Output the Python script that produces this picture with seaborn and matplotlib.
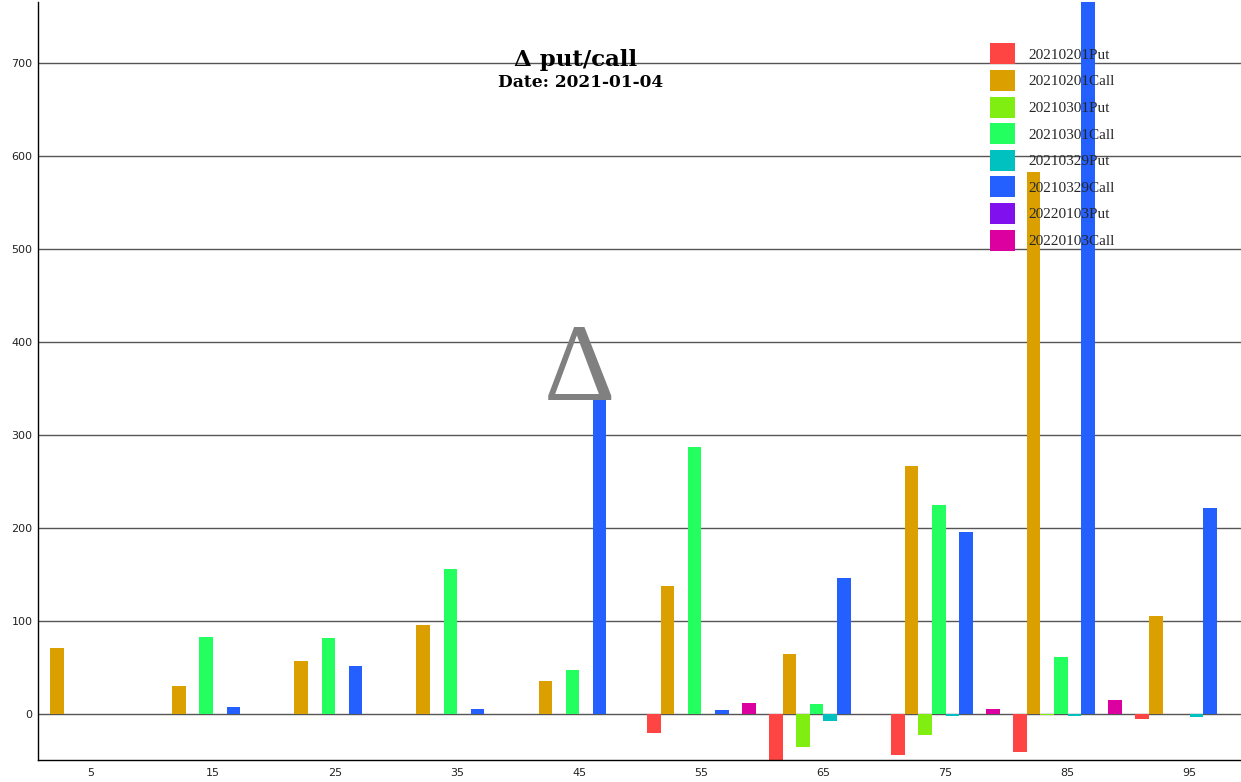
import matplotlib.pyplot as plt
import pandas as pd
import seaborn as sns

# 行使価格ごとの Δ put/call（2021-01-04）
strikes = ["5", "15", "25", "35", "45", "55", "65", "75", "85", "95"]
series_names = [
    "20210201Put", "20210201Call", "20210301Put", "20210301Call",
    "20210329Put", "20210329Call", "20220103Put", "20220103Call",
]
put_0201 = [0, 0, 0, 0, 0, -21, -58, -45, -41, -6]
call_0201 = [71, 30, 57, 95, 35, 137, 64, 266, 583, 105]
put_0301 = [0, 0, 0, 0, 0, 0, -36, -23, -2, -1]
call_0301 = [0, 82, 81, 155, 47, 287, 10, 224, 61, 0]
put_0329 = [0, 0, 0, 0, 0, 0, -8, -2.5, -3, -3.5]
call_0329 = [0, 6.5, 51, 5, 337, 3.5, 146, 195, 790, 221]
put_0103 = [0, 0, 0, 0, 0, 0, 0, 0, 0, 0]
call_0103 = [0, 0, 0, 0, 0, 11.5, 0, 4.7, 14.4, 0]

colors = ["#ff4444", "#dba000", "#80ee11", "#22ff5e",
          "#00c0c0", "#2460ff", "#8010ee", "#dc00a0"]

all_values = [put_0201, call_0201, put_0301, call_0301,
              put_0329, call_0329, put_0103, call_0103]
rows = []
for name, vals in zip(series_names, all_values):
    for s, v in zip(strikes, vals):
        rows.append({"strike": s, "series": name, "value": v})
df = pd.DataFrame(rows)

sns.set_style("white")

W, H = 1241, 782
fig = plt.figure(figsize=(W / 100, H / 100), dpi=100)
ax = fig.add_axes([38 / W, 22 / H, 1 - 38 / W, (760 - 1.7) / H])

sns.barplot(
    data=df, x="strike", y="value", hue="series",
    order=strikes, hue_order=series_names, palette=colors,
    width=0.89, gap=0, errorbar=None, saturation=1,
    linewidth=0, ax=ax,
)

ax.set_xlim(-0.434, 9.42)
ax.set_ylim(-50, 766)
ax.set_yticks(range(0, 800, 100))
ax.set_yticks([-50, 766], minor=True)
ax.set_xticks([-0.434], minor=True)
ax.yaxis.grid(True, color="#555555", linewidth=1)
ax.set_axisbelow(True)
ax.set_xlabel("")
ax.set_ylabel("")

ax.tick_params(axis="y", which="major", length=0, pad=4, labelsize=8, labelcolor="#222222")
ax.tick_params(axis="y", which="minor", length=6, width=1, color="black")
ax.tick_params(axis="x", which="both", length=4.5, width=1, pad=1.5,
               labelsize=8, labelcolor="#222222", color="black")

sns.despine(ax=ax)
for side in ["left", "bottom"]:
    ax.spines[side].set_color("black")
    ax.spines[side].set_linewidth(1)

# 最大値のマーカー
ax.text(4, call_0329[4], "Δ", ha="center", va="baseline",
        fontsize=80, color="grey", family="Liberation Serif", zorder=5)

handles, labels = ax.get_legend_handles_labels()
ax.legend(
    handles, labels, loc="upper left",
    bbox_to_anchor=(990 / W, 1 - 43.3 / H), bbox_transform=fig.transFigure,
    frameon=False, borderpad=0, borderaxespad=0,
    prop={"family": "Liberation Serif", "size": 11},
    handlelength=1.63, handleheight=1.735, labelspacing=0.37, handletextpad=0.85,
)

fig.text(575.5 / W, 1 - 66 / H, "Δ put/call", ha="center", va="baseline",
         family="DejaVu Serif", weight="bold", fontsize=16.5, color="black")
fig.text(580.5 / W, 1 - 86.7 / H, "Date: 2021-01-04", ha="center", va="baseline",
         family="DejaVu Serif", weight="bold", fontsize=12.25, color="black")

fig.savefig("out.png", dpi=100)
